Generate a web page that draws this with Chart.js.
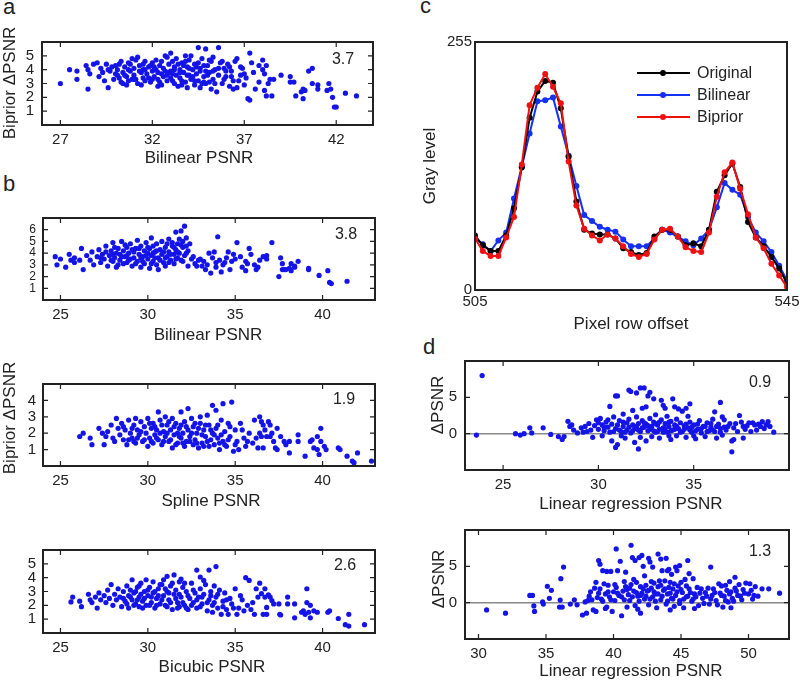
<!DOCTYPE html>
<html>
<head>
<meta charset="utf-8">
<script src="https://cdn.jsdelivr.net/npm/chart.js@4.4.0/dist/chart.umd.min.js"></script>
<style>
  body { margin: 0; background: #fff; }
  #fig { position: relative; width: 800px; height: 680px; overflow: hidden;
         font-family: "Liberation Sans", Arial, sans-serif; color: #222; }
  canvas { position: absolute; }
  .lbl { position: absolute; font-size: 22px; line-height: 1; }
  .t { position: absolute; font-size: 17px; line-height: 1; white-space: nowrap;
       transform: translate(-50%, -50%); }
  .t.rot { transform: translate(-50%, -50%) rotate(-90deg); }
</style>
</head>
<body>
<div id="fig">
  <div class="lbl" style="left:3px;top:-4px">a</div>
  <div class="lbl" style="left:3px;top:173px">b</div>
  <div class="lbl" style="left:420px;top:-5px">c</div>
  <div class="lbl" style="left:423px;top:336px">d</div>

  <canvas id="chartA" width="386" height="123" style="left:-3px;top:32px"></canvas>
  <canvas id="chartB1" width="387" height="122" style="left:-2px;top:208px"></canvas>
  <canvas id="chartB2" width="387" height="122" style="left:-2px;top:374px"></canvas>
  <canvas id="chartB3" width="387" height="123" style="left:-2px;top:540px"></canvas>
  <canvas id="chartC" width="370" height="288" style="left:430px;top:32px"></canvas>
  <canvas id="chartD1" width="379" height="149" style="left:420px;top:351px"></canvas>
  <canvas id="chartD2" width="379" height="149" style="left:420px;top:520px"></canvas>

  <div class="t rot" style="left:9px;top:83px">Biprior ΔPSNR</div>
  <div class="t" style="left:199px;top:157px">Bilinear PSNR</div>
  <div class="t rot" style="left:9px;top:418px">Biprior ΔPSNR</div>
  <div class="t" style="left:208px;top:334px">Bilinear PSNR</div>
  <div class="t" style="left:211px;top:500px">Spline PSNR</div>
  <div class="t" style="left:212px;top:666px">Bicubic PSNR</div>
  <div class="t rot" style="left:429px;top:166px">Gray level</div>
  <div class="t" style="left:631px;top:323px">Pixel row offset</div>
  <div class="t rot" style="left:437px;top:405px">ΔPSNR</div>
  <div class="t" style="left:631px;top:503px">Linear regression PSNR</div>
  <div class="t rot" style="left:438px;top:579px">ΔPSNR</div>
  <div class="t" style="left:631px;top:670px">Linear regression PSNR</div>
</div>

<script>
// --- panel a: Bilinear PSNR vs Biprior gain
const aXTicks = [27, 32, 37, 42];
const aYTicks = [1, 2, 3, 4, 5];
const aPoints = [
  [27.0,3.0],[27.5,4.0],[27.9,3.9],[27.9,3.3],[28.4,4.3],[28.5,4.0],[28.5,2.6],[28.6,3.7],[28.8,4.4],[29.0,4.5],
  [29.1,3.5],[29.2,4.1],[29.3,3.8],[29.5,4.4],[29.6,2.7],[29.7,3.9],[29.8,4.2],[29.9,3.3],[30.0,3.7],[30.1,4.0],
  [30.2,3.4],[30.2,4.4],[30.3,3.1],[30.3,4.6],[30.4,3.8],[30.5,4.2],[30.6,3.5],[30.6,2.9],[30.7,4.5],[30.7,3.2],
  [30.8,3.9],[30.8,4.4],[30.9,3.3],[31.0,4.1],[31.0,3.6],[31.1,4.7],[31.2,3.0],[31.2,4.9],[31.3,4.3],[31.4,3.8],
  [31.4,2.9],[31.5,4.0],[31.5,3.4],[31.6,4.6],[31.6,3.2],[31.7,3.7],[31.8,4.2],[31.9,3.1],[31.9,4.3],[32.0,3.9],
  [32.0,4.5],[32.1,3.5],[32.2,4.0],[32.2,4.7],[32.3,3.3],[32.3,2.8],[32.4,4.3],[32.5,3.7],[32.5,2.9],[32.6,4.1],
  [32.6,3.5],[32.7,5.0],[32.8,3.6],[32.8,4.9],[32.9,4.4],[32.9,3.8],[33.0,3.9],[33.0,5.2],[33.1,3.2],[33.1,4.6],
  [33.2,4.2],[33.2,3.0],[33.3,3.6],[33.3,4.8],[33.4,2.8],[33.5,4.0],[33.5,3.4],[33.6,4.5],[33.6,2.9],[33.7,3.8],
  [33.7,4.3],[33.8,5.0],[33.8,3.1],[33.9,4.2],[33.9,3.6],[34.0,3.6],[34.0,4.7],[34.1,3.3],[34.1,5.0],[34.2,4.0],
  [34.3,2.9],[34.3,4.4],[34.4,3.7],[34.4,4.2],[34.5,5.6],[34.5,3.2],[34.6,4.1],[34.6,3.9],[34.7,4.8],[34.7,3.0],
  [34.8,3.5],[34.8,3.1],[34.9,5.5],[34.9,3.0],[35.0,4.3],[35.1,3.8],[35.1,3.1],[35.2,2.6],[35.2,4.6],[35.3,3.3],
  [35.3,4.9],[35.4,4.0],[35.5,2.4],[35.6,5.6],[35.6,3.6],[35.7,4.5],[35.8,3.0],[35.9,4.1],[35.9,3.3],[36.0,3.5],
  [36.1,4.4],[36.2,2.8],[36.3,3.9],[36.4,3.2],[36.4,2.6],[36.5,4.6],[36.6,2.7],[36.6,4.8],[36.8,3.6],[36.8,4.2],
  [36.9,4.1],[37.0,2.9],[37.0,3.7],[37.1,3.4],[37.2,1.9],[37.3,5.2],[37.3,1.8],[37.5,3.8],[37.6,2.6],[37.8,4.3],
  [38.0,4.0],[38.0,4.7],[38.1,3.7],[38.1,2.5],[38.2,4.3],[38.2,2.1],[38.3,3.0],[38.4,3.3],[38.5,2.1],[38.6,3.3],
  [39.0,3.6],[39.5,3.5],[39.5,3.1],[39.7,3.1],[39.8,2.1],[40.1,2.4],[40.2,2.6],[40.3,2.5],[40.2,1.9],[40.5,3.9],
  [40.7,4.1],[40.7,3.0],[41.0,2.9],[41.0,2.6],[41.5,2.5],[41.6,3.0],[41.7,2.6],[41.8,2.0],[41.9,1.3],[42.0,1.3],
  [42.5,2.3],[43.1,2.1],
  [29.4,3.2],[29.6,4.0],[30.0,4.3],[30.4,3.0],[30.5,3.6],[30.9,4.8],[31.1,3.3],[31.3,3.9],[31.6,4.0],[31.8,3.4],
  [32.1,4.2],[32.4,3.1],[32.5,4.6],[32.7,3.9],[32.8,3.2],[33.0,3.4],[33.2,4.0],[33.4,4.4],[33.5,3.8],[33.6,3.2],
  [33.8,4.6],[34.0,4.1],[34.2,3.5],[34.3,3.2],[34.5,4.5],[34.6,2.7],[34.8,4.3],[35.0,3.6],[35.1,4.7],[35.3,3.9],
  [35.4,3.0],[35.6,4.1],[35.8,4.6],[36.0,3.9],[36.2,4.2],[36.3,3.5],[33.9,2.7],[32.0,3.3],[31.5,4.4],[30.7,4.0],
  [34.9,3.9],[33.1,3.7],[32.3,3.8],[31.0,3.3],[30.1,3.6],[36.7,3.2],[37.4,4.5],[37.8,3.1]
];

// --- panel b: three interpolators
const bXTicks = [25, 30, 35, 40];
const b1YTicks = [1, 2, 3, 4, 5, 6];
const b2YTicks = [1, 2, 3, 4];
const b3YTicks = [1, 2, 3, 4, 5];
const b1Points = [
  [24.7,3.7],[24.8,3.0],[25.0,3.5],[25.3,2.8],[25.5,3.9],[25.6,3.4],[25.8,3.6],[25.8,3.2],[26.1,3.4],[26.2,4.4],
  [26.3,2.6],[26.5,3.8],[26.7,3.4],[26.8,4.1],[26.9,3.0],[27.1,3.7],[27.2,4.3],[27.3,3.2],[27.4,3.9],[27.5,3.5],
  [27.6,4.6],[27.7,2.9],[27.8,3.8],[27.9,4.2],[28.0,3.3],[28.0,4.9],[28.1,3.6],[28.2,4.0],[28.2,2.8],[28.3,4.4],
  [28.4,3.4],[28.4,3.9],[28.5,5.0],[28.6,3.1],[28.6,4.2],[28.7,3.7],[28.8,4.5],[28.8,3.2],[28.9,4.0],[29.0,3.5],
  [29.0,4.8],[29.1,2.9],[29.2,4.1],[29.2,3.6],[29.3,4.4],[29.4,3.3],[29.4,5.1],[29.5,3.9],[29.6,4.6],[29.6,2.8],
  [29.7,3.7],[29.8,4.2],[29.8,3.1],[29.9,4.9],[30.0,3.5],[30.0,4.0],[30.1,4.4],[30.1,2.7],[30.2,3.8],[30.2,5.3],
  [30.3,3.3],[30.3,4.6],[30.4,4.1],[30.5,3.0],[30.5,4.8],[30.6,3.6],[30.6,2.6],[30.7,4.3],[30.8,3.9],[30.8,5.0],
  [30.9,3.2],[31.0,4.5],[31.0,2.9],[31.1,3.7],[31.2,4.1],[31.2,5.2],[31.3,3.4],[31.4,4.6],[31.4,4.9],[31.5,3.9],
  [31.5,3.1],[31.6,5.8],[31.6,4.3],[31.7,3.6],[31.7,4.8],[31.8,5.2],[31.8,4.0],[31.9,5.9],[31.9,3.4],[32.0,4.5],
  [32.0,5.0],[32.1,6.3],[32.1,3.8],[32.2,4.6],[32.2,5.3],[32.3,4.2],[32.3,2.9],[32.5,3.5],[32.7,3.1],[32.8,2.9],
  [33.0,3.5],[33.2,3.3],[33.3,2.6],[33.4,3.0],[33.5,4.0],[33.6,2.3],[33.7,3.6],[33.8,4.1],[33.9,3.2],[34.0,5.4],
  [34.1,3.4],[34.2,2.4],[34.3,3.0],[34.5,3.6],[34.6,4.1],[34.7,2.6],[34.8,3.3],[34.9,3.9],[35.1,4.9],[35.3,3.7],
  [35.4,2.8],[35.6,3.3],[35.6,2.5],[35.8,4.4],[35.9,3.9],[36.1,3.0],[36.2,2.6],[36.4,3.4],[36.6,3.7],[36.8,3.8],
  [36.8,3.5],[37.1,4.9],[37.5,2.0],[37.6,3.6],[37.7,3.1],[37.7,2.6],[37.8,2.6],[37.9,2.6],[38.1,2.7],[38.2,2.5],
  [38.2,3.1],[38.4,2.8],[38.4,2.9],[38.6,3.3],[39.2,2.6],[39.2,2.7],[39.8,2.1],[40.3,2.5],[40.4,1.5],[40.5,1.4],
  [41.4,1.6],
  [27.3,3.6],[27.6,4.1],[27.9,3.4],[28.1,4.5],[28.3,3.0],[28.5,3.7],[28.7,4.7],[28.9,3.4],[29.1,4.3],[29.3,3.1],
  [29.5,4.4],[29.7,3.3],[29.9,3.8],[30.0,4.5],[30.2,3.1],[30.4,3.6],[30.5,4.2],[30.7,3.4],[30.9,4.1],[31.0,3.6],
  [31.1,4.8],[31.3,3.9],[31.5,4.5],[31.6,3.5],[31.7,4.1],[31.9,4.7],[32.0,3.3],[32.2,4.0],[32.4,4.8],[32.6,3.7],
  [28.0,3.9],[28.8,3.8],[29.6,3.6],[30.3,4.0],[31.2,3.2],[32.9,3.4],[33.1,2.9],[33.9,2.8],[34.4,3.2],[35.0,3.5],
  [35.7,3.1],[36.3,2.8]
];
const b2Points = [
  [26.1,1.8],[26.3,2.0],[26.7,1.7],[26.8,1.3],[27.2,2.3],[27.4,2.0],[27.5,1.3],[27.6,1.8],[27.7,2.1],[27.9,2.5],
  [28.0,1.7],[28.1,1.5],[28.2,2.9],[28.3,2.3],[28.4,1.9],[28.5,2.6],[28.6,1.6],[28.7,2.2],[28.8,1.3],[28.9,2.8],
  [29.0,2.0],[29.1,1.7],[29.2,2.5],[29.3,2.9],[29.3,1.4],[29.4,2.2],[29.5,1.9],[29.6,2.7],[29.7,1.5],[29.8,2.4],
  [29.9,2.0],[30.0,1.2],[30.0,2.9],[30.1,1.7],[30.2,2.3],[30.3,2.6],[30.3,1.4],[30.4,1.9],[30.5,2.2],[30.6,3.3],
  [30.6,1.6],[30.7,2.8],[30.8,1.3],[30.9,2.1],[31.0,3.0],[31.0,1.8],[31.1,2.5],[31.2,1.5],[31.3,2.2],[31.4,1.1],
  [31.4,2.9],[31.5,1.9],[31.6,2.6],[31.7,1.4],[31.8,2.3],[31.9,3.3],[31.9,1.7],[32.0,2.0],[32.1,1.2],[32.1,2.7],
  [32.2,1.5],[32.3,3.5],[32.3,2.2],[32.4,1.8],[32.5,2.9],[32.6,1.3],[32.6,2.4],[32.7,1.6],[32.8,2.0],[32.9,1.1],
  [33.0,2.6],[33.0,3.0],[33.1,1.4],[33.2,2.2],[33.3,1.8],[33.4,3.1],[33.5,1.2],[33.5,2.5],[33.6,1.6],[33.7,3.7],
  [33.7,2.0],[33.8,1.3],[33.9,3.4],[33.9,2.3],[34.0,1.7],[34.1,1.0],[34.2,2.8],[34.3,3.8],[34.3,1.5],[34.4,2.1],
  [34.5,1.2],[34.6,2.6],[34.7,1.8],[34.8,3.9],[34.9,0.9],[35.0,2.2],[35.1,1.5],[35.2,1.0],[35.3,2.6],[35.5,1.7],
  [35.6,1.2],[35.8,2.0],[36.0,1.4],[36.1,2.8],[36.3,1.1],[36.4,3.0],[36.4,2.0],[36.5,2.7],[36.5,1.8],[36.6,2.5],
  [36.6,1.1],[36.7,2.2],[36.8,1.8],[36.9,2.7],[37.0,2.5],[37.0,1.8],[37.1,2.0],[37.2,1.5],[37.3,1.1],[37.4,1.0],
  [37.4,2.3],[37.6,1.8],[37.8,1.5],[37.9,1.3],[38.1,1.5],[38.1,0.8],[38.6,1.9],[38.6,1.5],[39.0,0.6],[39.3,1.5],
  [39.4,1.6],[39.5,1.1],[39.7,1.0],[39.7,1.8],[39.8,0.7],[39.9,2.3],[39.9,1.5],[40.1,1.2],[40.2,1.0],[40.9,1.1],
  [41.0,1.0],[41.4,0.6],[41.7,0.3],[41.8,0.2],[42.0,0.8],[42.8,0.3],
  [28.6,2.4],[28.9,1.6],[29.1,2.3],[29.4,1.7],[29.6,2.1],[29.8,1.6],[30.1,2.6],[30.2,1.5],[30.4,2.4],[30.5,1.7],
  [30.7,2.0],[30.9,1.5],[31.1,2.0],[31.2,2.7],[31.3,1.6],[31.5,2.4],[31.6,1.3],[31.7,2.0],[31.9,2.5],[32.0,1.4],
  [32.2,2.4],[32.4,1.5],[32.5,2.0],[32.7,2.6],[32.8,1.4],[32.9,2.3],[33.1,1.9],[33.2,1.2],[33.3,2.5],[33.4,1.5],
  [33.6,2.2],[33.8,1.9],[34.0,2.5],[34.1,1.4],[34.2,1.9],[34.4,1.3],[34.6,1.6],[34.7,2.4],[35.0,1.3],[35.4,2.2],
  [35.7,1.5],[36.2,1.7],[29.2,1.5],[30.8,2.5],[31.8,1.8]
];
const b3Points = [
  [25.6,2.25],[25.7,2.6],[26.1,2.3],[26.2,1.9],[26.6,2.8],[26.7,2.4],[26.8,2.2],[27.0,2.6],[27.1,1.8],[27.2,2.9],
  [27.3,2.4],[27.5,2.7],[27.6,2.2],[27.7,3.1],[27.8,2.5],[27.9,3.5],[28.0,2.0],[28.1,2.8],[28.2,2.4],[28.3,3.2],
  [28.4,2.6],[28.5,1.9],[28.6,3.0],[28.7,2.3],[28.8,3.4],[28.9,2.7],[28.9,1.8],[29.0,3.1],[29.1,3.85],[29.1,2.4],
  [29.2,2.9],[29.3,2.1],[29.4,3.3],[29.5,2.6],[29.5,1.9],[29.6,3.6],[29.7,2.3],[29.8,3.0],[29.9,3.85],[29.9,2.0],
  [30.0,2.7],[30.1,3.3],[30.2,2.2],[30.3,3.7],[30.3,2.9],[30.4,1.8],[30.5,2.5],[30.6,3.2],[30.7,2.1],[30.8,3.5],
  [30.9,3.85],[30.9,2.7],[31.0,2.0],[31.1,4.1],[31.1,3.0],[31.2,2.4],[31.3,3.4],[31.4,1.7],[31.5,4.2],[31.5,2.8],
  [31.6,3.1],[31.7,2.2],[31.8,3.7],[31.8,1.9],[31.9,2.6],[32.0,3.3],[32.1,2.0],[32.2,3.0],[32.3,1.7],[32.4,2.5],
  [32.5,3.6],[32.6,2.2],[32.7,2.9],[32.8,4.55],[32.8,1.8],[32.9,2.6],[33.0,4.05],[33.0,3.2],[33.1,2.1],[33.2,2.8],
  [33.3,3.5],[33.4,1.6],[33.5,4.55],[33.5,2.4],[33.6,3.0],[33.7,2.0],[33.8,3.4],[33.9,4.8],[33.9,2.6],[34.0,1.8],
  [34.1,3.1],[34.2,1.35],[34.3,2.3],[34.4,2.9],[34.5,1.7],[34.6,1.35],[34.7,2.5],[34.8,2.1],[35.0,3.2],[35.1,1.35],
  [35.2,1.8],[35.4,2.4],[35.6,4.0],[35.7,2.0],[35.8,3.8],[35.9,1.7],[36.0,2.2],[36.1,1.35],[36.2,3.2],[36.3,2.6],
  [36.4,3.6],[36.5,2.85],[36.6,1.35],[36.7,2.6],[36.7,3.2],[36.8,1.85],[36.8,1.35],[36.9,2.75],[37.0,2.6],[37.1,2.35],
  [37.2,2.1],[37.5,2.1],[37.55,1.35],[37.6,1.3],[38.0,2.6],[38.0,2.1],[38.4,1.1],[38.4,2.1],[38.8,1.5],[38.9,1.6],
  [39.0,1.35],[39.1,3.2],[39.1,2.2],[39.2,1.5],[39.3,1.1],[39.3,2.0],[39.5,1.6],[39.7,1.5],[40.3,1.5],[40.4,1.6],
  [40.9,1.05],[41.3,0.6],[41.5,1.35],[41.5,0.5],[42.4,0.6],
  [28.6,2.5],[28.8,2.1],[29.0,2.6],[29.2,2.0],[29.3,3.0],[29.4,2.4],[29.6,2.8],[29.7,1.8],[29.8,2.5],[30.0,3.1],
  [30.1,2.0],[30.2,2.6],[30.4,3.0],[30.5,2.0],[30.6,2.7],[30.7,3.5],[30.8,2.4],[31.0,3.2],[31.1,1.9],[31.2,2.9],
  [31.3,2.2],[31.4,3.6],[31.6,2.5],[31.7,1.8],[31.8,2.8],[32.0,2.2],[32.1,3.6],[32.2,1.8],[32.3,2.7],[32.5,2.0],
  [32.6,3.1],[32.8,2.4],[33.0,1.9],[33.1,2.6],[33.2,3.8],[33.4,2.2],[33.6,2.7],[33.7,1.5],[33.8,2.2],[34.0,2.8],
  [34.3,1.9],[34.5,2.4],[34.9,1.8],[35.3,2.7],[35.5,1.6],[29.5,3.4],[31.9,3.9]
];

// --- panel c: gray level profile along one pixel row
const pixelOffsets = [505,506,507,508,509,510,511,512,513,514,515,516,517,518,519,520,521,522,523,524,525,
                      526,527,528,529,530,531,532,533,534,535,536,537,538,539,540,541,542,543,544,545];
const grayOriginal = [56,46,40,40,56,84,126,177,204,215,213,187,137,91,62,58,57,57,53,43,39,
                      36,38,55,62,62,55,46,48,45,62,101,118,130,106,70,54,45,34,22,7];
const grayBilinear = [53,47,40,51,59,94,127,161,194,195,198,168,138,107,77,71,65,62,60,52,45,
                      45,45,53,62,59,55,50,46,53,62,85,110,103,98,75,59,50,39,25,10];
const grayBiprior = [53,40,35,35,54,75,129,190,208,222,209,192,132,87,63,56,51,57,53,45,37,
                     34,37,52,62,63,55,44,40,39,59,96,121,131,104,78,54,43,27,15,3];
const cXTicks = [505, 545];
const cYTicks = [0, 255];

// --- panel d: gain vs linear regression PSNR
const d1XTicks = [25, 30, 35];
const d2XTicks = [30, 35, 40, 45, 50];
const dYTicks = [0, 5];
const d1Points = [
  [23.6,-0.2],[23.9,8.0],[25.65,0.0],[25.9,-0.2],[26.1,0.0],[26.4,0.8],[26.5,0.1],[27.1,0.8],[27.5,-0.1],[27.9,-0.4],
  [28.1,-0.8],[28.2,-0.4],[28.4,1.7],[28.5,1.0],[28.7,0.5],[28.9,0.1],[29.1,0.8],[29.3,1.0],[29.4,0.3],[29.5,1.4],
  [29.6,0.5],[29.7,-0.5],[29.8,1.1],[29.9,1.9],[30.0,0.6],[30.1,2.1],[30.2,1.2],[30.2,-0.3],[30.3,0.4],[30.4,1.6],
  [30.5,0.9],[30.6,3.75],[30.6,0.2],[30.7,-1.0],[30.7,1.3],[30.8,2.3],[30.9,5.2],[30.9,-1.9],[30.9,0.7],[31.0,5.2],
  [31.0,-1.5],[31.1,1.8],[31.2,0.3],[31.3,2.7],[31.3,1.0],[31.4,-0.6],[31.5,1.5],[31.5,0.5],[31.6,6.0],[31.6,2.0],
  [31.7,5.8],[31.7,0.1],[31.8,3.2],[31.8,1.2],[31.9,-1.2],[31.9,0.7],[32.0,5.6],[32.0,2.3],[32.1,-2.1],[32.1,1.4],
  [32.2,6.3],[32.2,0.3],[32.3,3.5],[32.3,1.8],[32.4,6.3],[32.4,0.9],[32.5,3.7],[32.5,-1.0],[32.5,1.3],[32.6,5.2],
  [32.6,0.4],[32.7,5.7],[32.7,2.1],[32.8,1.0],[32.8,-0.4],[32.9,4.8],[32.9,1.6],[33.0,0.2],[33.0,2.6],[33.1,1.2],
  [33.2,-0.6],[33.2,0.6],[33.3,4.6],[33.3,1.9],[33.4,3.9],[33.4,0.8],[33.5,3.5],[33.5,1.4],[33.6,0.2],[33.6,2.4],
  [33.7,1.0],[33.8,-0.8],[33.8,1.7],[33.9,4.8],[33.9,0.5],[34.0,3.7],[34.0,1.2],[34.1,2.0],[34.1,-0.3],[34.2,3.4],
  [34.2,0.7],[34.3,1.5],[34.4,3.1],[34.4,0.3],[34.5,1.1],[34.6,3.5],[34.6,-0.5],[34.7,2.4],[34.7,0.8],[34.8,4.1],
  [34.8,1.6],[34.9,0.2],[35.0,1.2],[35.1,-0.7],[35.2,0.6],[35.3,1.8],[35.4,0.1],[35.5,1.0],[35.6,-0.4],[35.7,1.5],
  [35.8,0.4],[35.9,0.9],[36.0,2.0],[36.1,3.0],[36.1,0.3],[36.2,-0.6],[36.3,1.3],[36.4,4.3],[36.4,0.7],[36.5,2.3],
  [36.5,-0.2],[36.6,1.9],[36.7,0.5],[36.8,1.0],[37.0,-1.0],[37.0,-2.5],[37.1,-0.8],[37.1,0.8],[37.2,1.4],[37.4,2.5],
  [37.5,1.6],[37.6,-0.6],[37.7,0.6],[37.8,1.1],[38.0,0.3],[38.1,1.5],[38.2,1.2],[38.3,0.5],[38.4,1.3],[38.6,1.65],
  [38.7,0.7],[38.9,1.65],[39.0,1.0],[39.2,0.2],
  [30.0,1.5],[30.3,0.9],[30.5,1.9],[30.8,0.3],[31.0,1.2],[31.1,0.5],[31.3,1.6],[31.4,0.2],[31.6,0.9],[31.8,0.4],
  [32.0,1.0],[32.1,0.5],[32.3,0.8],[32.4,1.5],[32.6,1.1],[32.7,0.6],[32.9,0.4],[33.0,1.4],[33.1,0.3],[33.2,1.6],
  [33.4,0.2],[33.5,0.7],[33.7,1.6],[33.8,0.4],[34.0,0.6],[34.1,1.0],[34.3,0.2],[34.5,0.6],[34.6,1.3],[34.8,0.5],
  [34.9,0.9],[35.1,0.4],[35.2,1.3],[35.4,0.7],[35.6,1.0],[35.7,0.3],[35.9,1.4],[36.0,0.5],[36.2,1.0],[36.4,0.2],
  [36.6,0.9],[36.9,1.4],[37.3,0.3],[37.6,1.0],[37.9,1.5],[38.5,1.0],[38.8,1.2],[29.2,0.2],[28.6,1.2],[31.2,-0.3],
  [33.7,-0.3],[35.0,-0.3],[32.2,-0.5]
];
const d2Points = [
  [30.6,-1.0],[32.0,-1.45],[33.8,1.0],[34.0,1.0],[34.1,-0.45],[34.15,-1.2],[34.75,0.1],[34.8,-0.2],[35.1,2.25],[35.25,0.6],
  [35.4,1.7],[36.0,-0.6],[36.05,0.35],[36.1,3.3],[36.2,-0.6],[36.3,4.9],[36.8,-0.2],[37.1,0.4],[37.3,-0.3],[37.7,-1.7],
  [37.9,0.1],[38.0,-1.45],[38.2,0.9],[38.3,1.5],[38.4,0.4],[38.5,-1.0],[38.6,2.0],[38.7,2.8],[38.7,-1.2],[38.8,0.7],
  [38.9,5.8],[39.0,5.3],[39.0,1.9],[39.2,4.4],[39.2,0.2],[39.4,1.2],[39.5,4.3],[39.5,-0.6],[39.6,2.4],[39.7,0.8],
  [39.8,4.3],[39.9,-1.2],[40.0,1.5],[40.1,0.3],[40.2,7.4],[40.2,2.1],[40.3,4.4],[40.4,1.0],[40.5,5.7],[40.6,-1.8],
  [40.7,1.6],[40.8,0.4],[40.9,4.2],[40.9,2.2],[41.0,-0.6],[41.1,1.1],[41.2,0.3],[41.3,7.9],[41.3,2.5],[41.4,6.2],
  [41.5,1.6],[41.6,5.8],[41.6,-0.4],[41.7,2.8],[41.8,0.9],[41.9,6.2],[42.0,-1.45],[42.0,2.2],[42.1,6.5],[42.1,1.3],
  [42.2,5.0],[42.3,3.7],[42.3,0.5],[42.4,2.4],[42.5,1.6],[42.6,6.1],[42.6,-0.3],[42.7,5.6],[42.8,2.0],[42.9,4.9],
  [42.9,0.8],[43.0,2.7],[43.1,1.2],[43.2,-0.7],[43.3,6.7],[43.3,2.2],[43.4,3.0],[43.5,6.0],[43.5,0.4],[43.6,4.4],
  [43.7,1.7],[43.8,3.0],[43.9,6.1],[43.9,-0.2],[44.0,4.4],[44.0,1.2],[44.1,4.6],[44.2,2.8],[44.3,0.6],[44.3,3.9],
  [44.4,1.9],[44.5,-0.5],[44.6,4.9],[44.6,1.0],[44.7,4.4],[44.8,2.3],[44.9,5.1],[44.9,0.3],[45.0,2.8],[45.1,1.4],
  [45.2,-0.7],[45.3,3.2],[45.4,0.8],[45.5,5.8],[45.6,4.0],[45.6,1.9],[45.8,0.2],[45.9,3.3],[46.0,1.2],[46.2,2.1],
  [46.3,-0.4],[46.5,1.9],[46.6,0.6],[46.8,1.4],[47.0,2.0],[47.1,-0.2],[47.2,4.9],[47.3,1.0],[47.4,1.9],[47.6,0.3],
  [47.8,2.6],[47.9,1.3],[48.0,2.3],[48.1,-0.6],[48.2,0.9],[48.3,2.4],[48.4,1.7],[48.5,0.1],[48.6,2.9],[48.7,1.5],
  [48.8,0.6],[49.0,3.5],[49.0,2.0],[49.2,1.0],[49.3,2.5],[49.5,0.4],[49.6,1.8],[49.8,2.7],[50.0,1.2],[50.1,2.6],
  [50.3,0.5],[50.5,2.2],[50.7,0.9],[51.0,1.9],[51.5,1.9],[52.3,1.3],
  [38.1,0.3],[38.9,1.3],[39.1,0.5],[39.3,2.6],[39.6,1.5],[39.8,0.4],[40.1,2.5],[40.3,1.3],[40.6,0.8],[40.8,2.9],
  [41.0,1.8],[41.2,2.0],[41.4,0.8],[41.5,3.2],[41.7,1.4],[41.9,0.2],[42.0,1.0],[42.2,1.9],[42.4,0.9],[42.6,1.7],
  [42.7,0.5],[42.8,2.9],[43.0,1.5],[43.1,0.2],[43.3,1.2],[43.5,2.4],[43.6,0.9],[43.8,1.9],[44.0,0.2],[44.1,2.1],
  [44.2,1.3],[44.4,0.5],[44.5,2.6],[44.7,1.5],[44.9,-0.1],[45.0,1.8],[45.2,0.5],[45.4,2.3],[45.5,0.9],[45.7,1.4],
  [45.9,0.5],[46.1,0.8],[46.4,1.3],[46.7,-0.1],[46.9,0.9],[47.2,0.5],[47.5,1.4],[47.7,-0.3],[48.0,1.0],[48.3,0.3],
  [48.6,1.2],[48.9,0.2],[49.1,1.6],[49.4,0.9],[49.7,1.3],[50.2,1.7],[50.4,1.0],[39.4,-0.8],[41.8,-0.9],[44.2,-1.0],
  [46.0,-0.8],[48.7,-0.7]
];

const dotColor = "#1414e8";
const inkColor = "#222222";
const fontFamily = '"Liberation Sans", Arial, sans-serif';

Chart.defaults.font.family = fontFamily;
Chart.defaults.color = inkColor;

// fixed axis sizes so the plot box lands where the reference has it
function fixAxis(size, horizontal) {
  return (s) => {
    if (horizontal) s.height = size;
    else s.width = size;
    s.paddingLeft = 0;
    s.paddingRight = 0;
    s.paddingTop = 0;
    s.paddingBottom = 0;
  };
}

function useTicks(values) {
  return (s) => {
    s.ticks = values.map((v) => ({ value: v }));
  };
}

// box, inward tick marks, zero line and corner number
const framePlugin = {
  id: "frame",
  beforeDatasetsDraw(chart, args, opts) {
    if (!opts.zero) return;
    const { ctx, chartArea: a, scales: { y } } = chart;
    const py = y.getPixelForValue(0);
    ctx.save();
    ctx.strokeStyle = "#8a8a8a";
    ctx.lineWidth = 1.5;
    ctx.beginPath();
    ctx.moveTo(a.left, py);
    ctx.lineTo(a.right, py);
    ctx.stroke();
    ctx.restore();
  },
  afterDraw(chart, args, opts) {
    const { ctx, chartArea: a, scales: { x, y } } = chart;
    ctx.save();
    ctx.strokeStyle = inkColor;
    if (opts.ticks) {
      ctx.lineWidth = 1.2;
      ctx.beginPath();
      x.ticks.forEach((t) => {
        const px = x.getPixelForValue(t.value);
        ctx.moveTo(px, a.bottom);
        ctx.lineTo(px, a.bottom - 5);
        ctx.moveTo(px, a.top);
        ctx.lineTo(px, a.top + 5);
      });
      y.ticks.forEach((t) => {
        const py = y.getPixelForValue(t.value);
        ctx.moveTo(a.left, py);
        ctx.lineTo(a.left + 5, py);
        ctx.moveTo(a.right, py);
        ctx.lineTo(a.right - 5, py);
      });
      ctx.stroke();
    }
    ctx.lineWidth = 2;
    ctx.strokeRect(a.left, a.top, a.right - a.left, a.bottom - a.top);
    if (opts.note) {
      ctx.fillStyle = inkColor;
      ctx.font = "16px " + fontFamily;
      ctx.textAlign = "center";
      ctx.textBaseline = "middle";
      ctx.fillText(opts.note, a.right - opts.noteDx, a.top + opts.noteDy);
    }
    ctx.restore();
  },
};

function axisOptions(min, max, ticks, horizontal, size, pad, fontSize) {
  return {
    type: "linear",
    min: min,
    max: max,
    afterBuildTicks: useTicks(ticks),
    afterFit: fixAxis(size, horizontal),
    grid: { display: false, drawTicks: false },
    border: { display: false },
    ticks: { padding: pad, autoSkip: false, maxRotation: 0, font: { size: fontSize || 15 } },
  };
}

function makeScatter(id, points, cfg) {
  return new Chart(document.getElementById(id), {
    type: "scatter",
    data: {
      datasets: [{
        data: points.map((p) => ({ x: p[0], y: p[1] })),
        pointRadius: 2.6,
        pointHoverRadius: 2.6,
        pointBackgroundColor: dotColor,
        pointBorderWidth: 0,
      }],
    },
    options: {
      responsive: false,
      animation: false,
      events: [],
      layout: { padding: { top: 10, right: 10, left: 0, bottom: 0 } },
      plugins: {
        legend: { display: false },
        tooltip: { enabled: false },
        frame: { ticks: true, zero: cfg.zero, note: cfg.note, noteDx: cfg.noteDx, noteDy: cfg.noteDy },
      },
      scales: {
        x: axisOptions(cfg.x[0], cfg.x[1], cfg.xTicks, true, 30, 6),
        y: axisOptions(cfg.y[0], cfg.y[1], cfg.yTicks, false, 45, cfg.yPad || 8, cfg.yFont),
      },
    },
    plugins: [framePlugin],
  });
}

makeScatter("chartA", aPoints, { x: [26, 44], y: [0, 6], xTicks: aXTicks, yTicks: aYTicks,
  note: "3.7", noteDx: 30, noteDy: 18 });
makeScatter("chartB1", b1Points, { x: [24, 43], y: [0, 7], xTicks: bXTicks, yTicks: b1YTicks,
  yFont: 12, yPad: 7, note: "3.8", noteDx: 29, noteDy: 17 });
makeScatter("chartB2", b2Points, { x: [24, 43], y: [0, 5], xTicks: bXTicks, yTicks: b2YTicks,
  yPad: 7, note: "1.9", noteDx: 31, noteDy: 16 });
makeScatter("chartB3", b3Points, { x: [24, 43], y: [0, 6], xTicks: bXTicks, yTicks: b3YTicks,
  yPad: 7, note: "2.6", noteDx: 30, noteDy: 16 });
makeScatter("chartD1", d1Points, { x: [23, 40], y: [-5, 10], xTicks: d1XTicks, yTicks: dYTicks,
  zero: true, note: "0.9", noteDx: 29, noteDy: 22 });
makeScatter("chartD2", d2Points, { x: [29, 53], y: [-5, 10], xTicks: d2XTicks, yTicks: dYTicks,
  zero: true, note: "1.3", noteDx: 29, noteDy: 22 });

// legend drawn inside the plot box of panel c
const innerLegend = {
  id: "innerLegend",
  afterDraw(chart) {
    const { ctx, chartArea: a } = chart;
    ctx.save();
    ctx.font = "16px " + fontFamily;
    ctx.textBaseline = "middle";
    ctx.textAlign = "left";
    chart.data.datasets.forEach((ds, i) => {
      const yy = a.top + 31 + i * 22;
      ctx.strokeStyle = ds.borderColor;
      ctx.lineWidth = 2;
      ctx.beginPath();
      ctx.moveTo(a.left + 162, yy);
      ctx.lineTo(a.left + 215, yy);
      ctx.stroke();
      ctx.fillStyle = ds.borderColor;
      ctx.beginPath();
      ctx.arc(a.left + 188, yy, 3, 0, Math.PI * 2);
      ctx.fill();
      ctx.fillStyle = inkColor;
      ctx.fillText(ds.label, a.left + 222, yy + 1);
    });
    ctx.restore();
  },
};

function profile(values) {
  return values.map((v, i) => ({ x: pixelOffsets[i], y: v }));
}

function lineSet(label, values, color, order) {
  return {
    label: label,
    data: profile(values),
    borderColor: color,
    backgroundColor: color,
    borderWidth: 2,
    pointRadius: 3,
    pointHoverRadius: 3,
    pointBorderWidth: 0,
    tension: 0,
    order: order,
  };
}

new Chart(document.getElementById("chartC"), {
  type: "line",
  data: {
    datasets: [
      lineSet("Original", grayOriginal, "#000000", 2),
      lineSet("Bilinear", grayBilinear, "#1430f0", 3),
      lineSet("Biprior", grayBiprior, "#ee1111", 1),
    ],
  },
  options: {
    responsive: false,
    animation: false,
    events: [],
    layout: { padding: { top: 10, right: 13, left: 0, bottom: 0 } },
    plugins: {
      legend: { display: false },
      tooltip: { enabled: false },
      frame: { ticks: false },
    },
    scales: {
      x: axisOptions(505, 545, cXTicks, true, 30, 3),
      y: axisOptions(0, 255, cYTicks, false, 45, 3),
    },
  },
  plugins: [framePlugin, innerLegend],
});
</script>
</body>
</html>
